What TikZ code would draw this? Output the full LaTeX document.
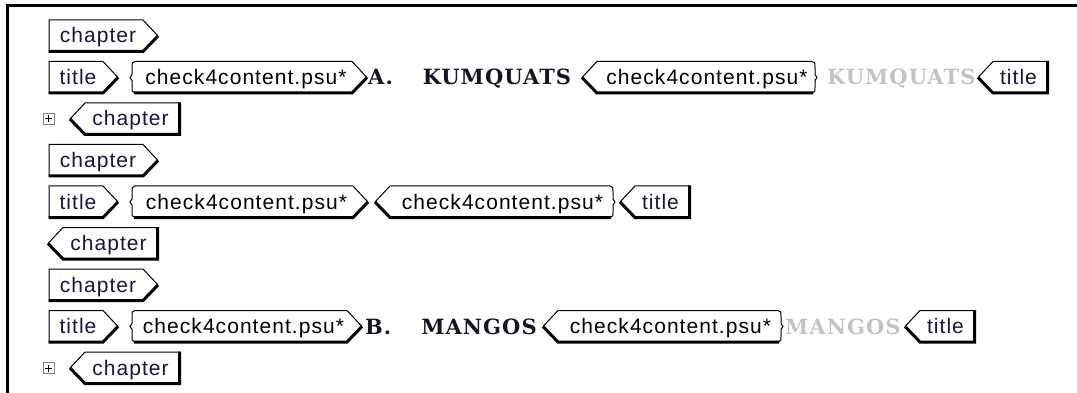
\documentclass[tikz,border=0pt]{standalone}
\usepackage{fontspec}
\usepackage{xcolor}
\usepackage{tikz}
\newfontfamily\tagfont[LetterSpace=5]{Liberation Sans}
\newfontfamily\slabfont[LetterSpace=5]{DejaVu Serif}
\definecolor{tagink}{RGB}{26,20,64}
\definecolor{slabink}{RGB}{20,20,40}
\definecolor{ghost}{RGB}{195,195,195}
\definecolor{boxgray}{RGB}{128,128,128}
\tikzset{
  tagline/.style={black, line width=1pt, line join=miter},
  tagshadow/.style={black, line width=3pt, line join=miter},
  tagtext/.style={inner sep=0pt, anchor=base, text=tagink, font=\tagfont\fontsize{21}{21}\selectfont},
  psutext/.style={tagtext, text=black},
  slabtext/.style={inner sep=0pt, anchor=base west, font=\slabfont\bfseries\fontsize{21}{21}\selectfont}
}
\newcommand{\opentag}[5]{%
  \draw[tagline] (#2,#4+16) -- (#2,#4-16) -- (#3,#4-16) -- (#3+15,#4);
  \draw[tagshadow] (#2-0.5,#4+15.5) -- (#3,#4+15.5) -- (#3+15,#4);
  \node[tagtext] (#1) at ({(#2+#3)/2+2},#4+7) {#5};
}
\newcommand{\closetag}[5]{%
  \draw[tagline] (#2,#4) -- (#2+15,#4-16) -- (#3,#4-16);
  \draw[tagshadow] (#2,#4) -- (#2+15,#4+15.5) -- (#3-0.5,#4+15.5) -- (#3-0.5,#4-16.5);
  \node[tagtext] (#1) at ({(#2+15+#3)/2-2},#4+7) {#5};
}
\newcommand{\bropen}[5]{%
  \draw[tagline] (#2+4,#4+15) .. controls (#2+2,#4+15) and (#2+2,#4+13) .. (#2+2,#4+10)
    -- (#2+2,#4+3) -- (#2,#4) -- (#2+2,#4-3) -- (#2+2,#4-10)
    .. controls (#2+2,#4-14) and (#2+2,#4-16) .. (#2+5,#4-16) -- (#3,#4-16) -- (#3+15,#4);
  \draw[tagshadow] (#2+4,#4+15.5) -- (#3,#4+15.5) -- (#3+15,#4);
  \node[psutext] (#1) at ({(#2+#3)/2+5},#4+7) {#5};
}
\newcommand{\brclose}[5]{%
  \draw[tagline] (#2,#4) -- (#2+15,#4-16) -- (#3-5,#4-16)
    .. controls (#3-2,#4-16) and (#3-2,#4-14) .. (#3-2,#4-10)
    -- (#3-2,#4-3) -- (#3,#4) -- (#3-2,#4+3) -- (#3-2,#4+10)
    .. controls (#3-2,#4+13) and (#3-2,#4+15) .. (#3-4,#4+15);
  \draw[tagshadow] (#2,#4) -- (#2+15,#4+15.5) -- (#3-4,#4+15.5);
  \node[psutext] (#1) at ({(#2+15+#3)/2},#4+7) {#5};
}
\newcommand{\plusbox}[3]{%
  \node[draw=boxgray, line width=0.8pt, minimum size=11pt, inner sep=0pt, fill=white] (#1) at (#2,#3) {};
  \draw[black, line width=1pt] (#1.center) ++(-3.5,0) -- ++(7,0) (#1.center) ++(0,-3.5) -- ++(0,7);
}

\begin{document}
\begin{tikzpicture}[x=1pt, y=-1pt]
\useasboundingbox[fill=white] (0,0) rectangle (1077,393);
\draw[line width=3pt] (1077,5.5) -- (7,5.5) -- (7,393);
\opentag{chapA}{49}{143}{36}{chapter}
\opentag{titleA}{49}{103}{77.5}{title}
\bropen{psuA}{130}{352}{77.5}{check4content.psu*}
\node[slabtext, text=slabink] (headA) at (368,85) {A.\hspace{30pt}KUMQUATS};
\brclose{psuAend}{582}{817}{77.5}{check4content.psu*}
\node[slabtext, text=ghost] (ghostA) at (827,85) {KUMQUATS};
\closetag{titleAend}{978}{1048}{77.5}{title}
\plusbox{plusA}{48.5}{119}
\closetag{chapAend}{70}{180}{119}{chapter}
\opentag{chapE}{49}{143}{160.5}{chapter}
\opentag{titleE}{49}{103}{202}{title}
\bropen{psuE}{130}{353}{202}{check4content.psu*}
\brclose{psuEend}{375}{615}{202}{check4content.psu*}
\closetag{titleEend}{620}{690}{202}{title}
\closetag{chapEend}{48}{158}{243.5}{chapter}
\opentag{chapB}{49}{143}{285}{chapter}
\opentag{titleB}{49}{103}{326.5}{title}
\bropen{psuB}{130}{347}{326.5}{check4content.psu*}
\node[slabtext, text=slabink] (headB) at (365,334) {B.\hspace{30pt}MANGOS};
\brclose{psuBend}{543}{783}{326.5}{check4content.psu*}
\node[slabtext, text=ghost] (ghostB) at (785,334) {MANGOS};
\closetag{titleBend}{905}{975}{326.5}{title}
\plusbox{plusB}{48.5}{368}
\closetag{chapBend}{70}{180}{368}{chapter}
\end{tikzpicture}
\end{document}
